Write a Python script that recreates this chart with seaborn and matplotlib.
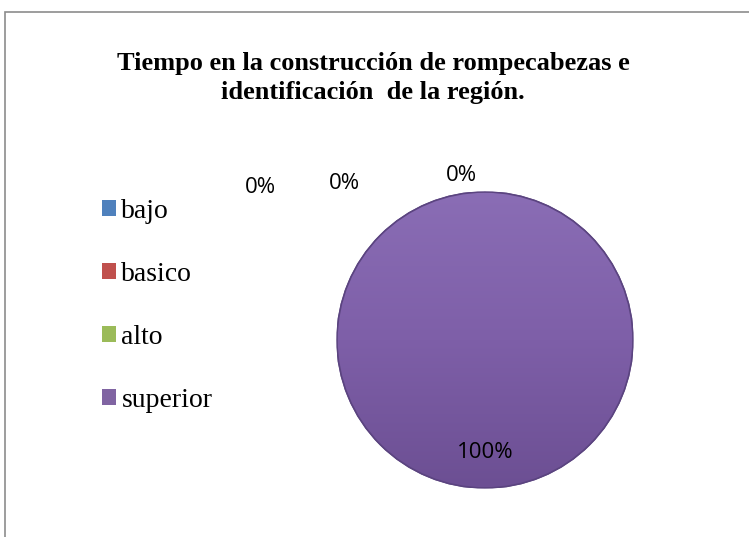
import matplotlib
matplotlib.use("Agg")
import matplotlib.pyplot as plt
import matplotlib.patches as mpatches
import numpy as np
import seaborn as sns

# data
niveles = ["bajo", "basico", "alto", "superior"]
porcentajes = [0, 0, 0, 100]
colores = ["#4F81BD", "#C0504D", "#9BBB59", "#8064A2"]
titulo = "Tiempo en la construcción de rompecabezas e\nidentificación  de la región."

sns.set_theme(style="white")
plt.rcParams["font.family"] = ["Liberation Serif", "DejaVu Serif"]
plt.rcParams["text.color"] = "black"

fig = plt.figure(figsize=(7.49, 5.37), dpi=100)

# chart area frame (only top/left edges are visible in the crop)
fig.patches.append(mpatches.Rectangle((5 / 749, -0.02), 1.1, (537 - 12) / 537 + 0.02,
                                      transform=fig.transFigure, fill=False,
                                      edgecolor="#8C8C8C", linewidth=1.2))

fig.text(373 / 749, 1 - 78 / 537, titulo, ha="center", va="center",
         fontsize=19, fontweight="bold", linespacing=1.3, color="black")

ax = fig.add_axes([0.4499, 0.0913, 0.3952, 0.5512])
wedges, texts, autotexts = ax.pie(
    porcentajes, colors=colores, startangle=90, counterclock=False,
    autopct="%1.0f%%", pctdistance=0.76,
    wedgeprops=dict(edgecolor="#5B4480", linewidth=1.0),
    textprops=dict(fontsize=16, family="Open Sans", color="black"))
ax.set_xlim(-1, 1)
ax.set_ylim(-1, 1)
ax.set_aspect("equal")

# soft vertical shading on the big slice, like the Excel bevel
grad = np.linspace(0, 1, 256).reshape(-1, 1)
cmap = matplotlib.colors.LinearSegmentedColormap.from_list("p", ["#6C4F93", "#7E5FA8", "#8A6DB5"])
for w, v in zip(wedges, porcentajes):
    if v > 0:
        im = ax.imshow(grad, extent=(-1, 1, -1, 1), origin="lower", cmap=cmap,
                       aspect="auto", zorder=w.get_zorder() + 0.1)
        im.set_clip_path(w)
        rim = mpatches.Circle((0, 0), 1.0, fill=False, edgecolor="#5B4480",
                              linewidth=1.2, zorder=w.get_zorder() + 0.2)
        ax.add_patch(rim)
for t in autotexts:
    t.set_zorder(5)

# Excel spreads the zero-value labels above the pie
offsets = [(-1.52, 1.03), (-0.95, 1.06), (-0.16, 1.11)]
zeros = [t for t, v in zip(autotexts, porcentajes) if v == 0]
for t, pos in zip(zeros, offsets):
    t.set_position(pos)
    t.set_ha("center")
    t.set_va("center")

handles = [mpatches.Patch(facecolor=c, edgecolor="none") for c in colores]
leg = fig.legend(handles, niveles, loc="center left", bbox_to_anchor=(102 / 749, 1 - 306 / 537),
                 frameon=False, fontsize=20, handlelength=0.5, handleheight=0.5,
                 handletextpad=0.2, labelspacing=1.37, borderaxespad=0, borderpad=0)
for t in leg.get_texts():
    t.set_color("black")

fig.savefig("out.png", dpi=100)
